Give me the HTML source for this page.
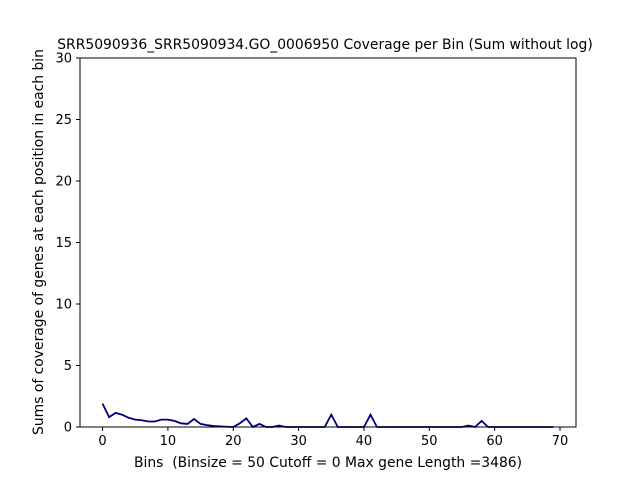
<!DOCTYPE html>
<html><head><meta charset="utf-8"><style>
body{margin:0;background:#fff}
svg text{font-family:"DejaVu Sans","Liberation Sans",sans-serif;fill:#000;white-space:pre}
</style></head><body>
<svg id="chart" width="640" height="480">
<rect width="640" height="480" fill="#fff"/>
<text x="325" y="49" font-size="13.9" text-anchor="middle">SRR5090936_SRR5090934.GO_0006950 Coverage per Bin (Sum without log)</text>
<g id="xt"></g><g id="yt"></g>
<polyline id="line" fill="none" stroke="#00007f" stroke-width="1.8"/>
<rect x="80" y="58" width="496" height="369" fill="none" stroke="#000" stroke-width="1"/>
<text x="328" y="467" font-size="13.9" text-anchor="middle">Bins  (Binsize = 50 Cutoff = 0 Max gene Length =3486)</text>
<text transform="translate(43,242) rotate(-90)" font-size="13.9" text-anchor="middle">Sums of coverage of genes at each position in each bin</text>
</svg>
<script>
const values=[1.9,0.8,1.15,1.0,0.75,0.6,0.55,0.45,0.45,0.6,0.6,0.5,0.3,0.25,0.65,0.25,0.15,0.08,0.05,0.02,0,0.3,0.7,0,0.25,0,0,0.12,0,0,0,0,0,0,0,1.0,0,0,0,0,0,1.0,0,0,0,0,0,0,0,0,0,0,0,0,0,0,0.12,0,0.5,0,0,0,0,0,0,0,0,0,0,0];
const xTicks=[0,10,20,30,40,50,60,70];
const yTicks=[0,5,10,15,20,25,30];
const X=v=>80+(v+3.45)*496/75.9;
const Y=v=>427-v*369/30;
const ns="http://www.w3.org/2000/svg";
const line=document.getElementById('line');
line.setAttribute('points',values.map((v,i)=>X(i)+','+Y(v)).join(' '));
const xt=document.getElementById('xt'),yt=document.getElementById('yt');
xTicks.forEach(t=>{
 const l=document.createElementNS(ns,'line');
 l.setAttribute('x1',X(t));l.setAttribute('x2',X(t));l.setAttribute('y1',427);l.setAttribute('y2',431);l.setAttribute('stroke','#000');
 
 
 xt.appendChild(l);
 const s=document.createElementNS(ns,'text');
 s.setAttribute('x',X(t));s.setAttribute('y',445);s.setAttribute('font-size','13');s.setAttribute('text-anchor','middle');s.textContent=t;
 
 
 xt.appendChild(s);
});
yTicks.forEach(t=>{
 const l=document.createElementNS(ns,'line');
 l.setAttribute('x1',76);l.setAttribute('x2',80);l.setAttribute('y1',Y(t));l.setAttribute('y2',Y(t));l.setAttribute('stroke','#000');
 
 
 yt.appendChild(l);
 const s=document.createElementNS(ns,'text');
 s.setAttribute('x',72);s.setAttribute('y',Y(t)+4.5);s.setAttribute('font-size','13');s.setAttribute('text-anchor','end');s.textContent=t;
 
 
 yt.appendChild(s);
});
</script>
</body></html>
